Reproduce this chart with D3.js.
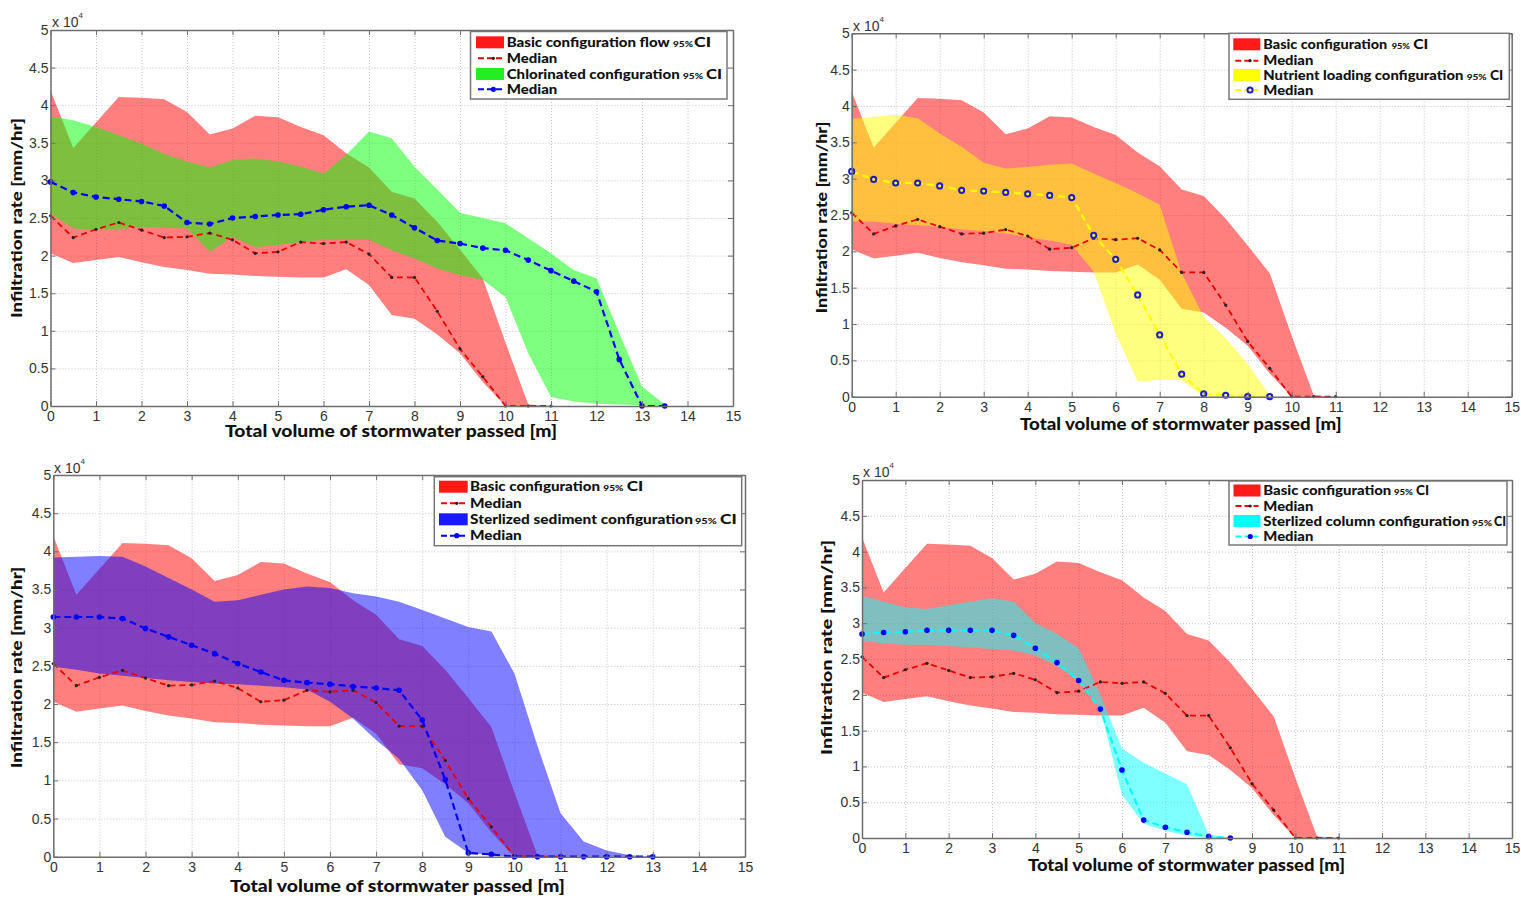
<!DOCTYPE html>
<html><head><meta charset="utf-8">
<script src="https://cdn.jsdelivr.net/npm/d3@7"></script>
<style>body{margin:0;background:#fff} svg{display:block}</style>
</head><body><svg id="c" width="1521" height="898"></svg>
<script>
// ---------- DATA (values in units of 1e4 mm/hr) ----------
const xTickLabels = [0,1,2,3,4,5,6,7,8,9,10,11,12,13,14,15];
const yTickLabels = ["0","0.5","1","1.5","2","2.5","3","3.5","4","4.5","5"];

const basicX      = [0,0.5,1,1.5,2,2.5,3,3.5,4,4.5,5,5.5,6,6.5,7,7.5,8,8.5,9,9.5,10,10.5,11];
const basicUpper  = [4.20,3.43,3.77,4.11,4.10,4.08,3.91,3.61,3.69,3.86,3.84,3.71,3.60,3.36,3.17,2.85,2.76,2.45,2.08,1.70,0.84,0.02,0];
const basicLower  = [2.03,1.90,1.94,1.98,1.91,1.85,1.81,1.76,1.75,1.73,1.72,1.71,1.71,1.82,1.61,1.21,1.16,0.95,0.70,0.32,0,0,0];
const basicMedian = [2.53,2.24,2.35,2.44,2.34,2.24,2.25,2.30,2.21,2.03,2.05,2.18,2.16,2.18,2.02,1.71,1.71,1.26,0.76,0.39,0,0,0];

const chlorX      = [0,0.5,1,1.5,2,2.5,3,3.5,4,4.5,5,5.5,6,6.5,7,7.5,8,8.5,9,9.5,10,10.5,11,11.5,12,12.5,13,13.5];
const chlorUpper  = [3.85,3.80,3.71,3.60,3.49,3.35,3.25,3.17,3.27,3.29,3.25,3.18,3.09,3.34,3.65,3.56,3.18,2.88,2.57,2.50,2.43,2.23,2.03,1.81,1.70,0.97,0.26,0.02];
const chlorLower  = [2.56,2.36,2.34,2.35,2.38,2.37,2.36,2.05,2.25,2.11,2.14,2.18,2.21,2.21,2.21,2.07,1.96,1.83,1.74,1.68,1.45,0.70,0.12,0.06,0.03,0.02,0.01,0];
const chlorMedian = [2.98,2.84,2.78,2.75,2.72,2.66,2.44,2.42,2.50,2.52,2.54,2.55,2.61,2.65,2.67,2.54,2.37,2.20,2.16,2.10,2.07,1.94,1.80,1.66,1.52,0.62,0,0];

const nutX        = [0,0.5,1,1.5,2,2.5,3,3.5,4,4.5,5,5.5,6,6.5,7,7.5,8,8.5,9,9.5];
const nutUpper    = [3.82,3.85,3.88,3.83,3.62,3.44,3.22,3.14,3.16,3.19,3.21,3.07,2.94,2.80,2.64,1.70,1.10,0.80,0.45,0.02];
const nutLower    = [2.41,2.41,2.38,2.36,2.34,2.30,2.28,2.25,2.19,2.15,2.09,1.72,0.87,0.21,0.23,0.23,0,0,0,0];
const nutMedian   = [3.10,2.99,2.94,2.94,2.90,2.84,2.83,2.81,2.79,2.77,2.74,2.22,1.89,1.40,0.85,0.31,0.04,0.02,0,0];

const sedX        = [0,0.5,1,1.5,2,2.5,3,3.5,4,4.5,5,5.5,6,6.5,7,7.5,8,8.5,9,9.5,10,10.5,11,11.5,12,12.5,13];
const sedUpper    = [3.92,3.93,3.94,3.93,3.80,3.65,3.50,3.34,3.36,3.43,3.50,3.54,3.52,3.45,3.41,3.34,3.23,3.12,3.01,2.95,2.40,1.45,0.57,0.20,0.08,0.02,0];
const sedLower    = [2.49,2.45,2.40,2.37,2.34,2.31,2.29,2.27,2.26,2.24,2.22,2.19,2.03,1.81,1.53,1.28,0.87,0.26,0.05,0.02,0,0,0,0,0,0,0];
const sedMedian   = [3.14,3.14,3.14,3.12,2.99,2.88,2.77,2.66,2.53,2.42,2.31,2.28,2.26,2.23,2.21,2.18,1.79,1.01,0.05,0.03,0,0,0,0,0,0,0];

const colX        = [0,0.5,1,1.5,2,2.5,3,3.5,4,4.5,5,5.5,6,6.5,7,7.5,8,8.5];
const colUpper    = [3.38,3.30,3.22,3.20,3.25,3.30,3.35,3.30,3.00,2.85,2.65,2.00,1.25,1.05,0.90,0.75,0.05,0];
const colLower    = [2.75,2.72,2.70,2.70,2.68,2.66,2.64,2.62,2.55,2.40,2.20,1.80,0.60,0.20,0.10,0.03,0,0];
const colMedian   = [2.85,2.87,2.88,2.90,2.90,2.90,2.90,2.83,2.65,2.45,2.20,1.80,0.95,0.25,0.15,0.08,0.02,0];

const xTitle = "Total volume of stormwater passed [m]";
const yTitle = "Infiltration rate [mm/hr]";

// ---------- LAYOUT ----------
const svg = d3.select("#c");
const TITLE_FONT = "Lato, 'Liberation Sans', sans-serif";
const TICK_FONT = "'Liberation Sans', Arial, sans-serif";

function zip(xs, lo, hi){ return xs.map((v,i)=>({x:v, lo:lo[i], hi:hi[i]})); }
function pts(xs, ys){ return xs.map((v,i)=>({x:v, y:ys[i]})); }

const panels = [
  { L:50.5, T:30, R:733, B:406,
    xt:{x0:225,x1:557,y:437}, yt:{x:16,y0:118,y1:318}, exp:{x:52,y:27},
    other:{x:chlorX, lo:chlorLower, hi:chlorUpper, med:chlorMedian, fill:"#00ff00", line:"#0000ff", marker:"dot", mcol:"#0000ff", sw:"#22ee22"},
    legend:{L:470.5,T:31.5,R:727,B:99, swx:476, sww:28, tx:506.7, rows:[42.3,58.3,74,89.3],
      items:[["Basic configuration flow",163,673,20,694,17],["Median",50.6],["Chlorinated configuration",173,683,20,706,16],["Median",50.6]]} },
  { L:851.7, T:33.3, R:1511.7, B:396.7,
    xt:{x0:1020,x1:1341.7,y:430}, yt:{x:821,y0:121.7,y1:313.3}, exp:{x:853,y:30.5},
    other:{x:nutX, lo:nutLower, hi:nutUpper, med:nutMedian, fill:"#ffff00", line:"#ffff00", marker:"ring", mcol:"#1a1ad0", sw:"#ffff00"},
    legend:{L:1229,T:33.3,R:1509.3,B:99.3, swx:1233.3, sww:27, tx:1263.3, rows:[44.3,60.7,75,90],
      items:[["Basic configuration",124,1391.7,18.3,1413.3,15],["Median",50],["Nutrient loading configuration",200,1466.7,20,1490,13.3],["Median",50]]} },
  { L:53.3, T:475, R:745, B:856.7,
    xt:{x0:230,x1:565,y:891.5}, yt:{x:16,y0:566.7,y1:768.3}, exp:{x:54,y:472.5},
    other:{x:sedX, lo:sedLower, hi:sedUpper, med:sedMedian, fill:"#0000ff", line:"#0000ff", marker:"dot", mcol:"#0000ff", sw:"#1a1aff"},
    legend:{L:434.3,T:476.7,R:741.7,B:545.7, swx:439, sww:28.7, tx:470, rows:[486.7,503.3,519.3,535.7],
      items:[["Basic configuration",130,603.3,20,626.7,16.6],["Median",51.7],["Sterlized sediment configuration",223,695,21.7,720,16.7],["Median",51.7]]} },
  { L:862, T:480, R:1512, B:838,
    xt:{x0:1028,x1:1345,y:871}, yt:{x:826,y0:540,y1:755}, exp:{x:863,y:476.5},
    other:{x:colX, lo:colLower, hi:colUpper, med:colMedian, fill:"#00ffff", line:"#00ffff", marker:"dot", mcol:"#0000ff", sw:"#00ffff"},
    legend:{L:1229,T:481,R:1507,B:545, swx:1233.5, sww:27, tx:1263.3, rows:[490.5,506,521,536.5],
      items:[["Basic configuration",128,1394,19,1416,13],["Median",50],["Sterlized column configuration",206,1472,20,1494,12],["Median",50]]} }
];

function drawPanel(p){
  const g = svg.append("g");
  const x = d3.scaleLinear().domain([0,15]).range([p.L,p.R]);
  const y = d3.scaleLinear().domain([0,5]).range([p.B,p.T]);
  const yVals = yTickLabels.map(Number);

  // grid
  g.append("g").attr("transform",`translate(0,${p.B})`)
    .call(d3.axisBottom(x).tickValues(xTickLabels).tickSize(-(p.B-p.T)).tickFormat(""))
    .call(s=>{s.select(".domain").remove(); s.selectAll("line").attr("stroke","#c4c4c4").attr("stroke-dasharray","1,2");});
  g.append("g").attr("transform",`translate(${p.L},0)`)
    .call(d3.axisLeft(y).tickValues(yVals).tickSize(-(p.R-p.L)).tickFormat(""))
    .call(s=>{s.select(".domain").remove(); s.selectAll("line").attr("stroke","#c4c4c4").attr("stroke-dasharray","1,2");});

  const area = d3.area().x(d=>x(d.x)).y0(d=>y(d.lo)).y1(d=>y(d.hi));
  const line = d3.line().x(d=>x(d.x)).y(d=>y(d.y));

  // bands
  g.append("path").datum(zip(basicX,basicLower,basicUpper)).attr("d",area)
    .attr("fill","#ff0000").attr("fill-opacity",0.5);
  const o = p.other;
  g.append("path").datum(zip(o.x,o.lo,o.hi)).attr("d",area)
    .attr("fill",o.fill).attr("fill-opacity",0.5);

  // basic median
  const bm = pts(basicX,basicMedian);
  g.append("path").datum(bm).attr("d",line).attr("fill","none")
    .attr("stroke","#ee0000").attr("stroke-width",1.8).attr("stroke-dasharray","6,4");
  g.selectAll(".bm").data(bm).enter().append("circle")
    .attr("cx",d=>x(d.x)).attr("cy",d=>y(d.y)).attr("r",1.6).attr("fill","#222");

  // other median
  const om = pts(o.x,o.med);
  g.append("path").datum(om).attr("d",line).attr("fill","none")
    .attr("stroke",o.line).attr("stroke-width",2.2).attr("stroke-dasharray","7,4");
  if(o.marker==="ring"){
    g.selectAll(".om").data(om).enter().append("circle")
      .attr("cx",d=>x(d.x)).attr("cy",d=>y(d.y)).attr("r",2.6)
      .attr("fill","none").attr("stroke",o.mcol).attr("stroke-width",2);
  } else {
    g.selectAll(".om").data(om).enter().append("circle")
      .attr("cx",d=>x(d.x)).attr("cy",d=>y(d.y)).attr("r",2.8).attr("fill",o.mcol);
  }

  // axes box with inward ticks
  const axCol = "#6e6e6e";
  const tk = s=>{s.select(".domain").attr("stroke",axCol).attr("stroke-width",1.5);
    s.selectAll(".tick line").attr("stroke",axCol);
    s.selectAll("text").attr("font-family",TICK_FONT).attr("font-size",14).attr("fill","#333");};
  g.append("g").attr("transform",`translate(0,${p.B})`)
    .call(d3.axisBottom(x).tickValues(xTickLabels).tickSizeInner(-5).tickSizeOuter(0).tickPadding(5).tickFormat(d=>String(d)))
    .call(tk);
  g.append("g").attr("transform",`translate(0,${p.T})`)
    .call(d3.axisTop(x).tickValues(xTickLabels).tickSizeInner(-5).tickSizeOuter(0).tickFormat(""))
    .call(tk);
  g.append("g").attr("transform",`translate(${p.L},0)`)
    .call(d3.axisLeft(y).tickValues(yVals).tickSizeInner(-5).tickSizeOuter(0).tickPadding(2).tickFormat((d,i)=>yTickLabels[i]))
    .call(tk);
  g.append("g").attr("transform",`translate(${p.R},0)`)
    .call(d3.axisRight(y).tickValues(yVals).tickSizeInner(-5).tickSizeOuter(0).tickFormat(""))
    .call(tk);

  // exponent label
  const ex = g.append("text").attr("x",p.exp.x).attr("y",p.exp.y)
    .attr("font-family",TICK_FONT).attr("font-size",14).attr("fill","#333");
  ex.append("tspan").text("x 10");
  ex.append("tspan").attr("dy",-9).attr("font-size",8).text("4");

  // titles
  g.append("text").attr("x",(p.xt.x0+p.xt.x1)/2).attr("y",p.xt.y).attr("text-anchor","middle")
    .attr("font-family",TITLE_FONT).attr("font-weight",900).attr("font-size",16).attr("fill","#111")
    .attr("textLength",p.xt.x1-p.xt.x0).attr("lengthAdjust","spacingAndGlyphs").text(xTitle);
  const yc = (p.yt.y0+p.yt.y1)/2;
  g.append("text").attr("transform",`translate(${p.yt.x+5.5},${yc}) rotate(-90)`).attr("text-anchor","middle")
    .attr("font-family",TITLE_FONT).attr("font-weight",900).attr("font-size",15).attr("fill","#111")
    .attr("textLength",p.yt.y1-p.yt.y0).attr("lengthAdjust","spacingAndGlyphs").text(yTitle);

  // legend
  const lg = p.legend;
  g.append("rect").attr("x",lg.L).attr("y",lg.T).attr("width",lg.R-lg.L).attr("height",lg.B-lg.T)
    .attr("fill","#fff").attr("stroke","#777").attr("stroke-width",1.5);
  const swatches = [{t:"patch",c:"#ff1a1a"},{t:"line",c:"#ee0000",m:"bdot"},{t:"patch",c:o.sw},{t:"line",c:o.line,m:o.marker,mc:o.mcol}];
  lg.items.forEach((it,i)=>{
    const cy = lg.rows[i], sw = swatches[i];
    if(sw.t==="patch"){
      g.append("rect").attr("x",lg.swx).attr("y",cy-6).attr("width",lg.sww).attr("height",12).attr("fill",sw.c);
    } else {
      g.append("line").attr("x1",lg.swx+2).attr("x2",lg.swx+lg.sww-2).attr("y1",cy).attr("y2",cy)
        .attr("stroke",sw.c).attr("stroke-width",2).attr("stroke-dasharray","6,3");
      const mx = lg.swx+lg.sww*0.62;
      if(sw.m==="bdot") g.append("circle").attr("cx",mx).attr("cy",cy).attr("r",1.6).attr("fill","#222");
      else if(sw.m==="ring") g.append("circle").attr("cx",mx).attr("cy",cy).attr("r",2.6).attr("fill","none").attr("stroke",sw.mc).attr("stroke-width",2);
      else g.append("circle").attr("cx",mx).attr("cy",cy).attr("r",2.6).attr("fill",sw.mc);
    }
    const base = cy+4.5;
    g.append("text").attr("x",lg.tx).attr("y",base).attr("font-family",TITLE_FONT).attr("font-weight",900)
      .attr("font-size",13).attr("fill","#111").attr("textLength",it[1]).attr("lengthAdjust","spacingAndGlyphs").text(it[0]);
    if(it.length>2){
      g.append("text").attr("x",it[2]).attr("y",base).attr("font-family",TITLE_FONT).attr("font-weight",900)
        .attr("font-size",8).attr("fill","#111").attr("textLength",it[3]).attr("lengthAdjust","spacingAndGlyphs").text("95%");
      g.append("text").attr("x",it[4]).attr("y",base).attr("font-family",TITLE_FONT).attr("font-weight",900)
        .attr("font-size",13).attr("fill","#111").attr("textLength",it[5]).attr("lengthAdjust","spacingAndGlyphs").text("CI");
    }
  });
}
panels.forEach(drawPanel);
</script></body></html>
